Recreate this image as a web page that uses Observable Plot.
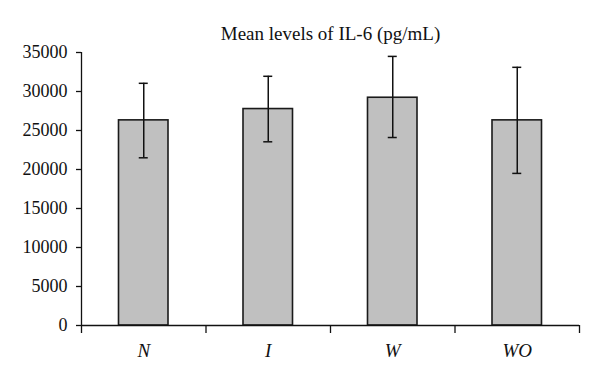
<!DOCTYPE html>
<html>
<head>
<meta charset="utf-8">
<script src="https://cdn.jsdelivr.net/npm/d3@7"></script>
<script src="https://cdn.jsdelivr.net/npm/@observablehq/plot@0.6"></script>
<style>
  html, body { margin: 0; padding: 0; background: #fff; }
  #chart svg { display: block; }
</style>
</head>
<body>
<div id="chart"></div>
<script>
const title = "Mean levels of IL-6 (pg/mL)";
const groups = ["N", "I", "W", "WO"];
const means = [26300, 27750, 29200, 26300];
const lower = [21500, 23550, 24100, 19500];
const upper = [31050, 31950, 34500, 33100];
const yTicks = [0, 5000, 10000, 15000, 20000, 25000, 30000, 35000];

const idx = groups.map((_, i) => i);
const font = "'Liberation Serif', 'Times New Roman', serif";

const chart = Plot.plot({
  width: 600,
  height: 383,
  marginTop: 52,
  marginBottom: 58,
  marginLeft: 81,
  marginRight: 21,
  style: { fontFamily: font, fontSize: "18px", color: "#111", background: "#fff" },
  x: { type: "linear", domain: [0, groups.length], axis: null },
  y: { domain: [0, 35000], axis: null },
  marks: [
    Plot.rectY(idx, {
      x1: i => i, x2: i => i + 1, y: i => means[i],
      insetLeft: 37.5, insetRight: 37.5,
      fill: "#c0c0c0", stroke: "#1a1a1a", strokeWidth: 1.6
    }),
    Plot.ruleX(idx, { x: i => i + 0.5, y1: i => lower[i], y2: i => upper[i], stroke: "#111", strokeWidth: 1.5 }),
    Plot.ruleY(idx, { y: i => upper[i], x1: i => i + 0.5, x2: i => i + 0.5, insetLeft: -4.5, insetRight: -4.5, stroke: "#111", strokeWidth: 1.5 }),
    Plot.ruleY(idx, { y: i => lower[i], x1: i => i + 0.5, x2: i => i + 0.5, insetLeft: -4.5, insetRight: -4.5, stroke: "#111", strokeWidth: 1.5 }),
    Plot.axisY({ ticks: yTicks, tickFormat: d3.format("d"), tickSize: 5, tickPadding: 9, stroke: "#111", strokeWidth: 1.3, fontSize: 18 }),
    Plot.axisX({ ticks: [0, 1, 2, 3, 4], tickFormat: () => "", tickSize: 8, stroke: "#111", strokeWidth: 1.3 }),
    Plot.axisX({ ticks: idx.map(i => i + 0.5), tickFormat: d => groups[Math.floor(d)], tickSize: 0, tickPadding: 18, fontSize: 19, fontStyle: "italic" }),
    Plot.ruleX([0], { stroke: "#111", strokeWidth: 1.3 }),
    Plot.ruleY([0], { stroke: "#111", strokeWidth: 1.3 }),
    Plot.text([title], { frameAnchor: "top", lineAnchor: "middle", dy: -19, fontSize: 19, fill: "#111", text: d => d })
  ]
});
document.getElementById("chart").appendChild(chart);
</script>
</body>
</html>
